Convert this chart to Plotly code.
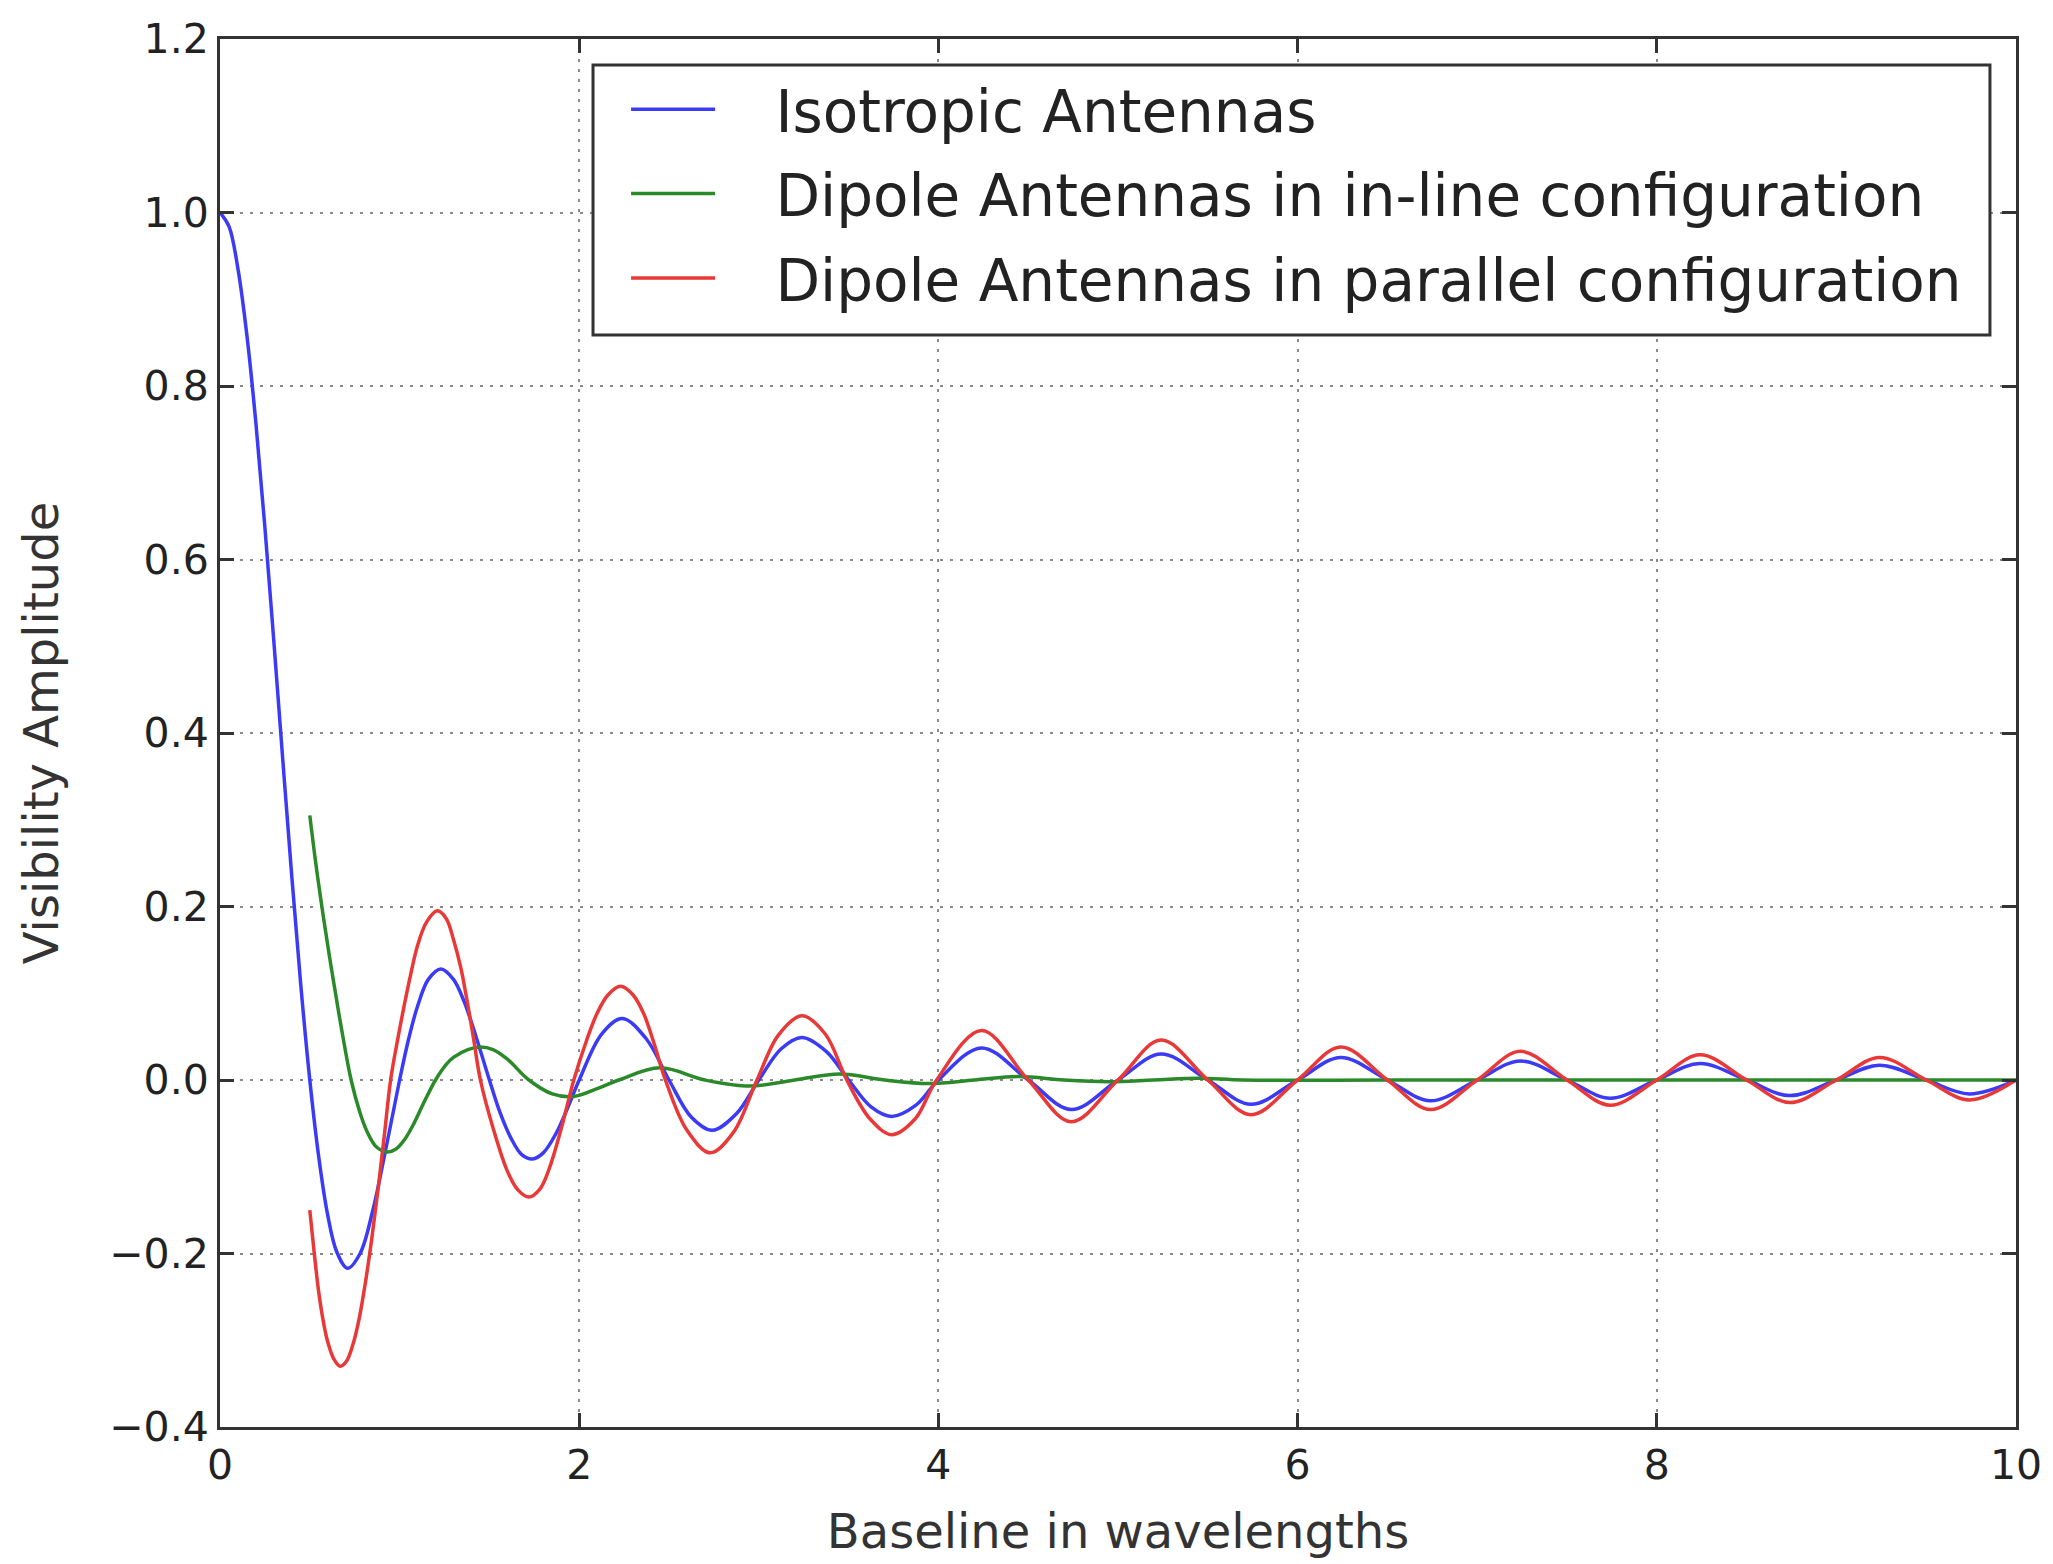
import plotly.graph_objects as go

# ---- data ----
iso_x = [0, 0.05, 0.1, 0.15, 0.2, 0.25, 0.3, 0.35, 0.4, 0.45, 0.5, 0.55, 0.6, 0.65,
         0.71, 0.78, 0.85, 0.92, 1.0, 1.05, 1.1, 1.16, 1.23, 1.3, 1.36, 1.43, 1.5,
         1.56, 1.62, 1.68, 1.74, 1.8, 1.87, 1.94,
         2.0, 2.125, 2.24, 2.375, 2.5, 2.625, 2.74, 2.875,
         3.0, 3.125, 3.24, 3.375, 3.5, 3.625, 3.74, 3.875, 4.0,
         4.24, 4.5, 4.74, 5.0, 5.24, 5.5, 5.74, 6.0, 6.24, 6.5, 6.74,
         7.0, 7.24, 7.5, 7.74, 8.0, 8.24, 8.5, 8.74, 9.0, 9.24, 9.5, 9.74, 10.0]
iso_y = [1.0, 0.984, 0.935, 0.858, 0.757, 0.637, 0.505, 0.368, 0.234, 0.109, 0.0, -0.089, -0.156, -0.198,
         -0.217, -0.200, -0.151, -0.083, 0.0, 0.047, 0.085, 0.116, 0.128, 0.116, 0.090, 0.047, 0.0,
         -0.038, -0.067, -0.086, -0.091, -0.084, -0.062, -0.030,
         0.0, 0.053, 0.071, 0.047, 0.0, -0.043, -0.058, -0.039,
         0.0, 0.036, 0.049, 0.033, 0.0, -0.031, -0.042, -0.029, 0.0,
         0.037, 0.0, -0.034, 0.0, 0.030, 0.0, -0.028, 0.0, 0.026, 0.0, -0.024,
         0.0, 0.022, 0.0, -0.021, 0.0, 0.019, 0.0, -0.018, 0.0, 0.017, 0.0, -0.016, 0.0]

inline_x = [0.5, 0.53, 0.56, 0.6, 0.635, 0.68, 0.73, 0.78, 0.82, 0.87, 0.93, 0.98, 1.03, 1.08, 1.14,
            1.2, 1.26, 1.3, 1.38, 1.45, 1.52, 1.6, 1.72, 1.85,
            1.97, 2.1, 2.22, 2.45, 2.7, 2.95, 3.2, 3.45, 3.7, 3.95, 4.2, 4.45, 4.7, 4.95,
            5.2, 5.45, 5.7, 6.5, 7.5, 8.5, 9.5, 10.0]
inline_y = [0.305, 0.255, 0.21, 0.155, 0.11, 0.055, 0.0, -0.038, -0.06, -0.077, -0.083, -0.0795, -0.068,
            -0.05, -0.024, 0.0, 0.018, 0.026, 0.035, 0.038, 0.035, 0.024, 0.0, -0.016,
            -0.019, -0.01, 0.0, 0.014, 0.0, -0.007, 0.0, 0.007, 0.0, -0.004, 0.0, 0.004, 0.0, -0.002,
            0.0, 0.002, 0.0, 0.0, 0.0, 0.0, 0.0, 0.0]

par_x = [0.5, 0.525, 0.55, 0.575, 0.6, 0.635, 0.67, 0.705, 0.74, 0.775, 0.81, 0.845, 0.88, 0.915,
         0.95, 0.985, 1.02, 1.06, 1.1, 1.15, 1.21, 1.26, 1.3, 1.34, 1.37, 1.41, 1.45, 1.52, 1.6,
         1.66, 1.72, 1.78, 1.83, 1.9, 1.97, 2.04, 2.1, 2.16, 2.23, 2.3, 2.36, 2.42, 2.48,
         2.6, 2.73, 2.86, 2.99, 3.11, 3.24, 3.37, 3.49,
         3.62, 3.74, 3.87, 3.99, 4.24, 4.5, 4.74, 5.0, 5.24, 5.5, 5.74, 6.0, 6.24, 6.5, 6.74,
         7.0, 7.24, 7.5, 7.74, 8.0, 8.24, 8.5, 8.74, 9.0, 9.24, 9.5, 9.74, 10.0]
par_y = [-0.15, -0.20, -0.245, -0.278, -0.302, -0.322, -0.33, -0.324, -0.305, -0.275, -0.233, -0.183,
         -0.126, -0.064, 0.0, 0.042, 0.08, 0.12, 0.155, 0.182, 0.195, 0.186, 0.162, 0.13, 0.098, 0.05,
         0.0, -0.055, -0.105, -0.127, -0.135, -0.126, -0.104, -0.056, 0.0, 0.045, 0.077, 0.098, 0.108,
         0.098, 0.076, 0.04, 0.0,
         -0.058, -0.084, -0.06, 0.0, 0.052, 0.074, 0.053, 0.0,
         -0.045, -0.063, -0.045, 0.0, 0.057, 0.0, -0.048, 0.0, 0.046, 0.0, -0.040, 0.0, 0.038, 0.0, -0.034,
         0.0, 0.033, 0.0, -0.029, 0.0, 0.029, 0.0, -0.026, 0.0, 0.026, 0.0, -0.023, 0.0]

series_names = ["Isotropic Antennas",
                "Dipole Antennas in in-line configuration",
                "Dipole Antennas in parallel configuration"]
x_ticks = [0, 2, 4, 6, 8, 10]
y_ticks = [-0.4, -0.2, 0.0, 0.2, 0.4, 0.6, 0.8, 1.0, 1.2]

assert len(iso_x) == len(iso_y)
assert len(inline_x) == len(inline_y)
assert len(par_x) == len(par_y)

FONT = "DejaVu Sans"
AX = "#333333"
colors = ["#3b3bf5", "#2a8a2a", "#e83838"]
GAP = "\u00a0\u00a0\u00a0"  # spacing between legend sample line and its text

fig = go.Figure()
for i, (xs, ys) in enumerate([(iso_x, iso_y), (inline_x, inline_y), (par_x, par_y)]):
    fig.add_trace(go.Scatter(
        x=xs, y=ys, mode="lines", name=GAP + series_names[i], legendgroup=f"g{i}",
        line=dict(color=colors[i], width=3.5, shape="spline", smoothing=1.0),
    ))

axis_common = dict(
    showline=True, linecolor=AX, linewidth=3, mirror="ticks",
    ticks="inside", ticklen=14, tickwidth=3, tickcolor=AX,
    showgrid=True, gridcolor="#8a8a8a", gridwidth=2, griddash="3px,7px",
    zeroline=False,
    tickfont=dict(family=FONT, size=41, color="#222222"),
)

# legend frame (opaque box, like matplotlib's legend frame)
fig.add_shape(type="rect", xref="paper", yref="paper",
              x0=0.2077, x1=0.9855, y0=0.7867, y1=0.9813,
              line=dict(color=AX, width=3), fillcolor="white", layer="above")

fig.update_layout(
    width=2053, height=1564,
    margin=dict(l=220, r=37, t=39, b=137),
    paper_bgcolor="white", plot_bgcolor="white",
    font=dict(family=FONT, color="#222222"),
    xaxis=dict(range=[0, 10], tickvals=x_ticks,
               title=dict(text="Baseline in wavelengths", font=dict(family=FONT, size=48, color="#333333"), standoff=27),
               **axis_common),
    yaxis=dict(range=[-0.4, 1.2], tickvals=y_ticks, tickformat=".1f",
               title=dict(text="Visibility Amplitude", font=dict(family=FONT, size=48, color="#333333"), standoff=36),
               **axis_common),
    legend=dict(
        x=0.2261, xanchor="left", y=0.9813, yanchor="top",
        bgcolor="rgba(0,0,0,0)", borderwidth=0,
        font=dict(family=FONT, size=58, color="#222222"),
        tracegroupgap=6, itemwidth=84,
    ),
    showlegend=True,
)

fig.write_html("out.html")
